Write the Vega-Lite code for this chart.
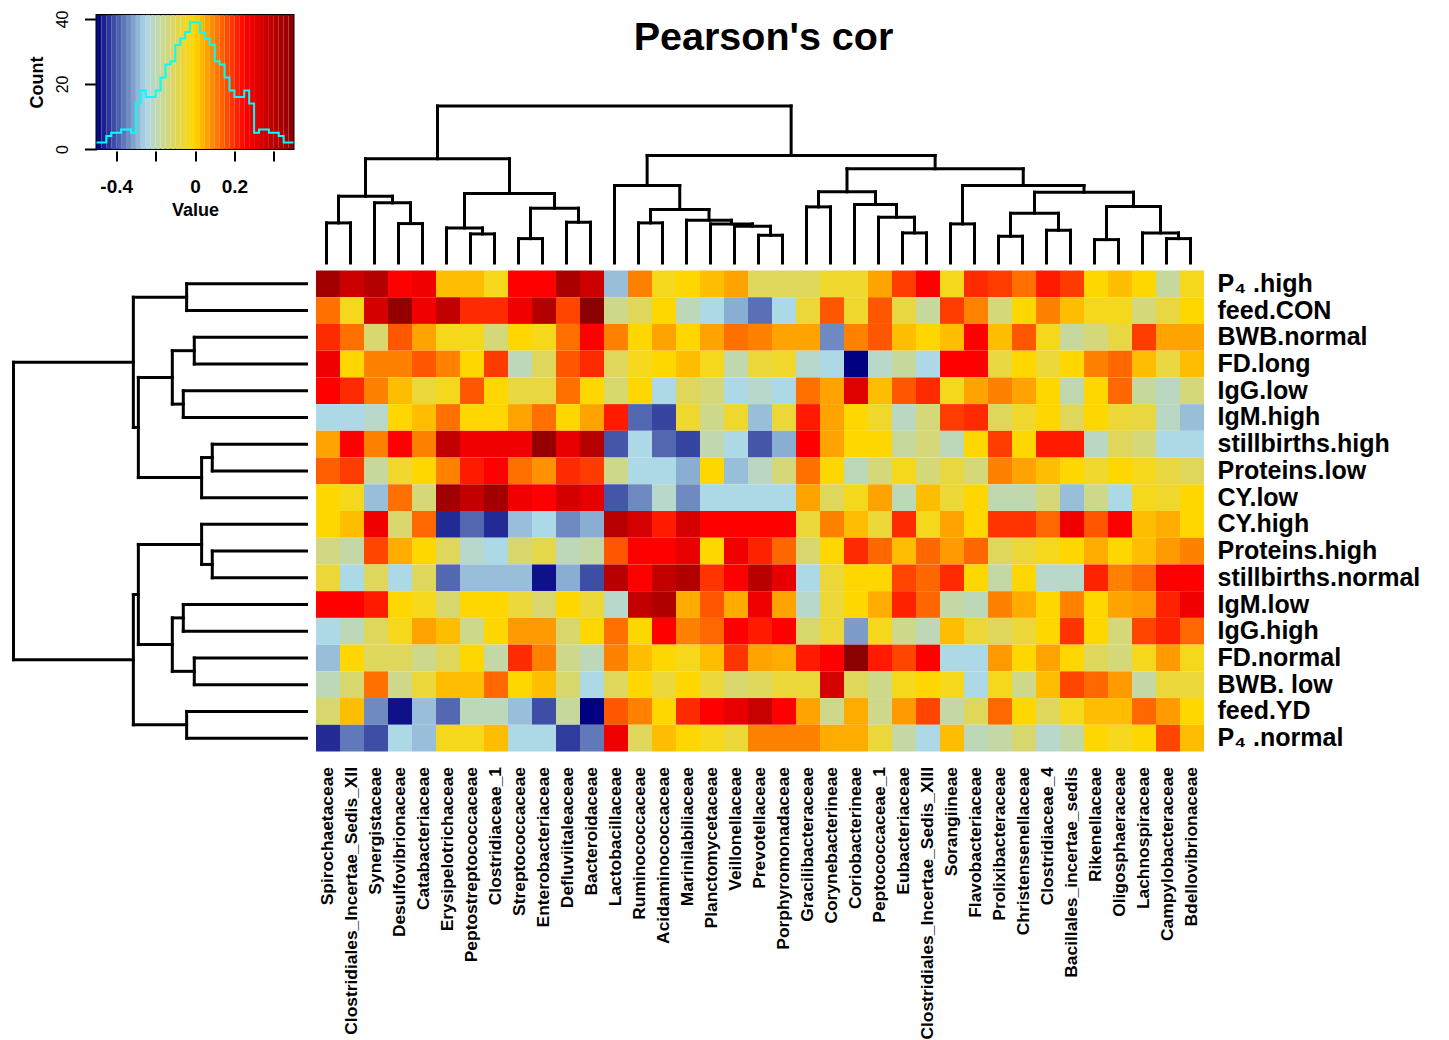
{
"$schema": "https://vega.github.io/schema/vega-lite/v6.json",
"background": "white",
"padding": {"left": 10.5, "top": 9, "right": 5, "bottom": 0},
"config": {
  "font": "Liberation Sans",
  "view": {"stroke": null},
  "axis": {"labelColor": "black", "titleColor": "black", "tickColor": "black", "grid": false}
},
"datasets": {
"taxa": [
{"col":0,"taxon":"Spirochaetaceae"},{"col":1,"taxon":"Clostridiales_Incertae_Sedis_XII"},{"col":2,"taxon":"Synergistaceae"},{"col":3,"taxon":"Desulfovibrionaceae"},{"col":4,"taxon":"Catabacteriaceae"},{"col":5,"taxon":"Erysipelotrichaceae"},{"col":6,"taxon":"Peptostreptococcaceae"},{"col":7,"taxon":"Clostridiaceae_1"},{"col":8,"taxon":"Streptococcaceae"},{"col":9,"taxon":"Enterobacteriaceae"},{"col":10,"taxon":"Defluviitaleaceae"},{"col":11,"taxon":"Bacteroidaceae"},{"col":12,"taxon":"Lactobacillaceae"},{"col":13,"taxon":"Ruminococcaceae"},{"col":14,"taxon":"Acidaminococcaceae"},{"col":15,"taxon":"Marinilabiliaceae"},{"col":16,"taxon":"Planctomycetaceae"},{"col":17,"taxon":"Veillonellaceae"},{"col":18,"taxon":"Prevotellaceae"},{"col":19,"taxon":"Porphyromonadaceae"},{"col":20,"taxon":"Gracilibacteraceae"},{"col":21,"taxon":"Corynebacterineae"},{"col":22,"taxon":"Coriobacterineae"},{"col":23,"taxon":"Peptococcaceae_1"},{"col":24,"taxon":"Eubacteriaceae"},{"col":25,"taxon":"Clostridiales_Incertae_Sedis_XIII"},{"col":26,"taxon":"Sorangiineae"},{"col":27,"taxon":"Flavobacteriaceae"},{"col":28,"taxon":"Prolixibacteraceae"},{"col":29,"taxon":"Christensenellaceae"},{"col":30,"taxon":"Clostridiaceae_4"},{"col":31,"taxon":"Bacillales_incertae_sedis"},{"col":32,"taxon":"Rikenellaceae"},{"col":33,"taxon":"Oligosphaeraceae"},{"col":34,"taxon":"Lachnospiraceae"},{"col":35,"taxon":"Campylobacteraceae"},{"col":36,"taxon":"Bdellovibrionaceae"}
],
"traits": [
{"row":0,"trait":"P₄ .high"},{"row":1,"trait":"feed.CON"},{"row":2,"trait":"BWB.normal"},{"row":3,"trait":"FD.long"},{"row":4,"trait":"IgG.low"},{"row":5,"trait":"IgM.high"},{"row":6,"trait":"stillbirths.high"},{"row":7,"trait":"Proteins.low"},{"row":8,"trait":"CY.low"},{"row":9,"trait":"CY.high"},{"row":10,"trait":"Proteins.high"},{"row":11,"trait":"stillbirths.normal"},{"row":12,"trait":"IgM.low"},{"row":13,"trait":"IgG.high"},{"row":14,"trait":"FD.normal"},{"row":15,"trait":"BWB. low"},{"row":16,"trait":"feed.YD"},{"row":17,"trait":"P₄ .normal"}
],
"cells": [
{"row":0,"col":0,"cor":0.45},{"row":0,"col":1,"cor":0.36},{"row":0,"col":2,"cor":0.41},{"row":0,"col":3,"cor":0.25},{"row":0,"col":4,"cor":0.28},{"row":0,"col":5,"cor":0.03},{"row":0,"col":6,"cor":0.03},{"row":0,"col":7,"cor":-0.03},{"row":0,"col":8,"cor":0.25},{"row":0,"col":9,"cor":0.25},{"row":0,"col":10,"cor":0.43},{"row":0,"col":11,"cor":0.36},{"row":0,"col":12,"cor":-0.28},{"row":0,"col":13,"cor":0.1},{"row":0,"col":14,"cor":-0.03},{"row":0,"col":15,"cor":0},{"row":0,"col":16,"cor":0.03},{"row":0,"col":17,"cor":0.06},{"row":0,"col":18,"cor":-0.1},{"row":0,"col":19,"cor":-0.1},{"row":0,"col":20,"cor":-0.1},{"row":0,"col":21,"cor":-0.05},{"row":0,"col":22,"cor":-0.05},{"row":0,"col":23,"cor":0.06},{"row":0,"col":24,"cor":0.18},{"row":0,"col":25,"cor":0.25},{"row":0,"col":26,"cor":-0.03},{"row":0,"col":27,"cor":0.2},{"row":0,"col":28,"cor":0.18},{"row":0,"col":29,"cor":0.12},{"row":0,"col":30,"cor":0.22},{"row":0,"col":31,"cor":0.18},{"row":0,"col":32,"cor":0},{"row":0,"col":33,"cor":0.03},{"row":0,"col":34,"cor":0},{"row":0,"col":35,"cor":-0.17},{"row":0,"col":36,"cor":-0.03},
{"row":1,"col":0,"cor":0.12},{"row":1,"col":1,"cor":-0.03},{"row":1,"col":2,"cor":0.34},{"row":1,"col":3,"cor":0.48},{"row":1,"col":4,"cor":0.28},{"row":1,"col":5,"cor":0.38},{"row":1,"col":6,"cor":0.2},{"row":1,"col":7,"cor":0.2},{"row":1,"col":8,"cor":0.28},{"row":1,"col":9,"cor":0.41},{"row":1,"col":10,"cor":0.17},{"row":1,"col":11,"cor":0.5},{"row":1,"col":12,"cor":-0.15},{"row":1,"col":13,"cor":-0.1},{"row":1,"col":14,"cor":0},{"row":1,"col":15,"cor":-0.2},{"row":1,"col":16,"cor":-0.25},{"row":1,"col":17,"cor":-0.3},{"row":1,"col":18,"cor":-0.37},{"row":1,"col":19,"cor":-0.25},{"row":1,"col":20,"cor":-0.06},{"row":1,"col":21,"cor":0.15},{"row":1,"col":22,"cor":-0.05},{"row":1,"col":23,"cor":0.15},{"row":1,"col":24,"cor":-0.07},{"row":1,"col":25,"cor":-0.17},{"row":1,"col":26,"cor":0.18},{"row":1,"col":27,"cor":0.1},{"row":1,"col":28,"cor":-0.13},{"row":1,"col":29,"cor":0},{"row":1,"col":30,"cor":0.1},{"row":1,"col":31,"cor":0.03},{"row":1,"col":32,"cor":-0.03},{"row":1,"col":33,"cor":-0.03},{"row":1,"col":34,"cor":-0.13},{"row":1,"col":35,"cor":-0.07},{"row":1,"col":36,"cor":0},
{"row":2,"col":0,"cor":0.2},{"row":2,"col":1,"cor":0.12},{"row":2,"col":2,"cor":-0.12},{"row":2,"col":3,"cor":0.15},{"row":2,"col":4,"cor":0.06},{"row":2,"col":5,"cor":-0.03},{"row":2,"col":6,"cor":-0.03},{"row":2,"col":7,"cor":-0.13},{"row":2,"col":8,"cor":0},{"row":2,"col":9,"cor":-0.03},{"row":2,"col":10,"cor":0.12},{"row":2,"col":11,"cor":0.25},{"row":2,"col":12,"cor":0.1},{"row":2,"col":13,"cor":0},{"row":2,"col":14,"cor":0.06},{"row":2,"col":15,"cor":0},{"row":2,"col":16,"cor":0.06},{"row":2,"col":17,"cor":0.12},{"row":2,"col":18,"cor":0.1},{"row":2,"col":19,"cor":0.06},{"row":2,"col":20,"cor":0.06},{"row":2,"col":21,"cor":-0.34},{"row":2,"col":22,"cor":0.1},{"row":2,"col":23,"cor":0.15},{"row":2,"col":24,"cor":0.03},{"row":2,"col":25,"cor":0},{"row":2,"col":26,"cor":0.03},{"row":2,"col":27,"cor":0.25},{"row":2,"col":28,"cor":0.03},{"row":2,"col":29,"cor":0.15},{"row":2,"col":30,"cor":-0.03},{"row":2,"col":31,"cor":-0.17},{"row":2,"col":32,"cor":-0.13},{"row":2,"col":33,"cor":-0.07},{"row":2,"col":34,"cor":0.18},{"row":2,"col":35,"cor":0.06},{"row":2,"col":36,"cor":0.06},
{"row":3,"col":0,"cor":0.28},{"row":3,"col":1,"cor":0},{"row":3,"col":2,"cor":0.1},{"row":3,"col":3,"cor":0.1},{"row":3,"col":4,"cor":0.15},{"row":3,"col":5,"cor":0.1},{"row":3,"col":6,"cor":0},{"row":3,"col":7,"cor":0.18},{"row":3,"col":8,"cor":-0.2},{"row":3,"col":9,"cor":-0.1},{"row":3,"col":10,"cor":0.15},{"row":3,"col":11,"cor":0.2},{"row":3,"col":12,"cor":-0.1},{"row":3,"col":13,"cor":-0.03},{"row":3,"col":14,"cor":0},{"row":3,"col":15,"cor":0.03},{"row":3,"col":16,"cor":-0.03},{"row":3,"col":17,"cor":-0.19},{"row":3,"col":18,"cor":-0.06},{"row":3,"col":19,"cor":-0.05},{"row":3,"col":20,"cor":-0.22},{"row":3,"col":21,"cor":-0.25},{"row":3,"col":22,"cor":-0.5},{"row":3,"col":23,"cor":-0.22},{"row":3,"col":24,"cor":-0.17},{"row":3,"col":25,"cor":-0.25},{"row":3,"col":26,"cor":0.25},{"row":3,"col":27,"cor":0.25},{"row":3,"col":28,"cor":-0.07},{"row":3,"col":29,"cor":0},{"row":3,"col":30,"cor":-0.06},{"row":3,"col":31,"cor":0},{"row":3,"col":32,"cor":0.1},{"row":3,"col":33,"cor":0.13},{"row":3,"col":34,"cor":0.03},{"row":3,"col":35,"cor":-0.07},{"row":3,"col":36,"cor":0.03},
{"row":4,"col":0,"cor":0.25},{"row":4,"col":1,"cor":0.2},{"row":4,"col":2,"cor":0.1},{"row":4,"col":3,"cor":0.03},{"row":4,"col":4,"cor":-0.06},{"row":4,"col":5,"cor":-0.03},{"row":4,"col":6,"cor":0.15},{"row":4,"col":7,"cor":0},{"row":4,"col":8,"cor":-0.07},{"row":4,"col":9,"cor":-0.07},{"row":4,"col":10,"cor":0.12},{"row":4,"col":11,"cor":0},{"row":4,"col":12,"cor":-0.12},{"row":4,"col":13,"cor":0},{"row":4,"col":14,"cor":-0.25},{"row":4,"col":15,"cor":-0.1},{"row":4,"col":16,"cor":-0.13},{"row":4,"col":17,"cor":-0.25},{"row":4,"col":18,"cor":-0.22},{"row":4,"col":19,"cor":-0.25},{"row":4,"col":20,"cor":0.12},{"row":4,"col":21,"cor":0.06},{"row":4,"col":22,"cor":0.32},{"row":4,"col":23,"cor":0.03},{"row":4,"col":24,"cor":0.15},{"row":4,"col":25,"cor":0.2},{"row":4,"col":26,"cor":-0.03},{"row":4,"col":27,"cor":0.06},{"row":4,"col":28,"cor":0.1},{"row":4,"col":29,"cor":0.06},{"row":4,"col":30,"cor":0},{"row":4,"col":31,"cor":-0.19},{"row":4,"col":32,"cor":0},{"row":4,"col":33,"cor":0.13},{"row":4,"col":34,"cor":-0.17},{"row":4,"col":35,"cor":-0.21},{"row":4,"col":36,"cor":-0.13},
{"row":5,"col":0,"cor":-0.25},{"row":5,"col":1,"cor":-0.25},{"row":5,"col":2,"cor":-0.22},{"row":5,"col":3,"cor":0},{"row":5,"col":4,"cor":0.03},{"row":5,"col":5,"cor":0.12},{"row":5,"col":6,"cor":0},{"row":5,"col":7,"cor":0},{"row":5,"col":8,"cor":0.06},{"row":5,"col":9,"cor":0.12},{"row":5,"col":10,"cor":0},{"row":5,"col":11,"cor":0.06},{"row":5,"col":12,"cor":0.22},{"row":5,"col":13,"cor":-0.38},{"row":5,"col":14,"cor":-0.42},{"row":5,"col":15,"cor":-0.05},{"row":5,"col":16,"cor":-0.15},{"row":5,"col":17,"cor":-0.05},{"row":5,"col":18,"cor":-0.28},{"row":5,"col":19,"cor":-0.06},{"row":5,"col":20,"cor":0.22},{"row":5,"col":21,"cor":0.06},{"row":5,"col":22,"cor":0},{"row":5,"col":23,"cor":-0.05},{"row":5,"col":24,"cor":-0.21},{"row":5,"col":25,"cor":-0.13},{"row":5,"col":26,"cor":0.18},{"row":5,"col":27,"cor":0.2},{"row":5,"col":28,"cor":-0.1},{"row":5,"col":29,"cor":-0.05},{"row":5,"col":30,"cor":0},{"row":5,"col":31,"cor":-0.1},{"row":5,"col":32,"cor":0},{"row":5,"col":33,"cor":-0.06},{"row":5,"col":34,"cor":-0.07},{"row":5,"col":35,"cor":-0.21},{"row":5,"col":36,"cor":-0.28},
{"row":6,"col":0,"cor":0.06},{"row":6,"col":1,"cor":0.25},{"row":6,"col":2,"cor":0.1},{"row":6,"col":3,"cor":0.25},{"row":6,"col":4,"cor":0.1},{"row":6,"col":5,"cor":0.38},{"row":6,"col":6,"cor":0.28},{"row":6,"col":7,"cor":0.28},{"row":6,"col":8,"cor":0.28},{"row":6,"col":9,"cor":0.48},{"row":6,"col":10,"cor":0.3},{"row":6,"col":11,"cor":0.41},{"row":6,"col":12,"cor":-0.4},{"row":6,"col":13,"cor":-0.25},{"row":6,"col":14,"cor":-0.38},{"row":6,"col":15,"cor":-0.42},{"row":6,"col":16,"cor":-0.19},{"row":6,"col":17,"cor":-0.25},{"row":6,"col":18,"cor":-0.4},{"row":6,"col":19,"cor":-0.3},{"row":6,"col":20,"cor":0.25},{"row":6,"col":21,"cor":0.06},{"row":6,"col":22,"cor":0},{"row":6,"col":23,"cor":0},{"row":6,"col":24,"cor":-0.17},{"row":6,"col":25,"cor":-0.13},{"row":6,"col":26,"cor":-0.2},{"row":6,"col":27,"cor":0},{"row":6,"col":28,"cor":0.18},{"row":6,"col":29,"cor":0},{"row":6,"col":30,"cor":0.22},{"row":6,"col":31,"cor":0.22},{"row":6,"col":32,"cor":-0.21},{"row":6,"col":33,"cor":-0.1},{"row":6,"col":34,"cor":-0.13},{"row":6,"col":35,"cor":-0.25},{"row":6,"col":36,"cor":-0.25},
{"row":7,"col":0,"cor":0.14},{"row":7,"col":1,"cor":0.18},{"row":7,"col":2,"cor":-0.17},{"row":7,"col":3,"cor":-0.05},{"row":7,"col":4,"cor":0},{"row":7,"col":5,"cor":0.1},{"row":7,"col":6,"cor":0.22},{"row":7,"col":7,"cor":0.25},{"row":7,"col":8,"cor":0.12},{"row":7,"col":9,"cor":0.08},{"row":7,"col":10,"cor":0.2},{"row":7,"col":11,"cor":0.18},{"row":7,"col":12,"cor":-0.15},{"row":7,"col":13,"cor":-0.25},{"row":7,"col":14,"cor":-0.25},{"row":7,"col":15,"cor":-0.3},{"row":7,"col":16,"cor":0},{"row":7,"col":17,"cor":-0.28},{"row":7,"col":18,"cor":-0.21},{"row":7,"col":19,"cor":-0.13},{"row":7,"col":20,"cor":0.12},{"row":7,"col":21,"cor":0},{"row":7,"col":22,"cor":-0.2},{"row":7,"col":23,"cor":-0.13},{"row":7,"col":24,"cor":-0.03},{"row":7,"col":25,"cor":-0.13},{"row":7,"col":26,"cor":-0.07},{"row":7,"col":27,"cor":-0.13},{"row":7,"col":28,"cor":0.1},{"row":7,"col":29,"cor":0.06},{"row":7,"col":30,"cor":0.03},{"row":7,"col":31,"cor":0},{"row":7,"col":32,"cor":-0.05},{"row":7,"col":33,"cor":0},{"row":7,"col":34,"cor":-0.03},{"row":7,"col":35,"cor":-0.07},{"row":7,"col":36,"cor":-0.1},
{"row":8,"col":0,"cor":0},{"row":8,"col":1,"cor":-0.03},{"row":8,"col":2,"cor":-0.28},{"row":8,"col":3,"cor":0.12},{"row":8,"col":4,"cor":-0.13},{"row":8,"col":5,"cor":0.45},{"row":8,"col":6,"cor":0.38},{"row":8,"col":7,"cor":0.45},{"row":8,"col":8,"cor":0.28},{"row":8,"col":9,"cor":0.25},{"row":8,"col":10,"cor":0.34},{"row":8,"col":11,"cor":0.3},{"row":8,"col":12,"cor":-0.4},{"row":8,"col":13,"cor":-0.34},{"row":8,"col":14,"cor":-0.22},{"row":8,"col":15,"cor":-0.34},{"row":8,"col":16,"cor":-0.25},{"row":8,"col":17,"cor":-0.25},{"row":8,"col":18,"cor":-0.25},{"row":8,"col":19,"cor":-0.25},{"row":8,"col":20,"cor":0.06},{"row":8,"col":21,"cor":-0.1},{"row":8,"col":22,"cor":-0.03},{"row":8,"col":23,"cor":0.06},{"row":8,"col":24,"cor":-0.2},{"row":8,"col":25,"cor":0.03},{"row":8,"col":26,"cor":-0.06},{"row":8,"col":27,"cor":0},{"row":8,"col":28,"cor":-0.19},{"row":8,"col":29,"cor":-0.19},{"row":8,"col":30,"cor":-0.13},{"row":8,"col":31,"cor":-0.28},{"row":8,"col":32,"cor":-0.15},{"row":8,"col":33,"cor":-0.25},{"row":8,"col":34,"cor":-0.03},{"row":8,"col":35,"cor":-0.05},{"row":8,"col":36,"cor":0},
{"row":9,"col":0,"cor":0},{"row":9,"col":1,"cor":0.03},{"row":9,"col":2,"cor":0.28},{"row":9,"col":3,"cor":-0.12},{"row":9,"col":4,"cor":0.13},{"row":9,"col":5,"cor":-0.45},{"row":9,"col":6,"cor":-0.38},{"row":9,"col":7,"cor":-0.45},{"row":9,"col":8,"cor":-0.28},{"row":9,"col":9,"cor":-0.25},{"row":9,"col":10,"cor":-0.34},{"row":9,"col":11,"cor":-0.3},{"row":9,"col":12,"cor":0.4},{"row":9,"col":13,"cor":0.34},{"row":9,"col":14,"cor":0.22},{"row":9,"col":15,"cor":0.34},{"row":9,"col":16,"cor":0.25},{"row":9,"col":17,"cor":0.25},{"row":9,"col":18,"cor":0.25},{"row":9,"col":19,"cor":0.25},{"row":9,"col":20,"cor":-0.06},{"row":9,"col":21,"cor":0.1},{"row":9,"col":22,"cor":0.03},{"row":9,"col":23,"cor":-0.06},{"row":9,"col":24,"cor":0.2},{"row":9,"col":25,"cor":-0.03},{"row":9,"col":26,"cor":0.06},{"row":9,"col":27,"cor":0},{"row":9,"col":28,"cor":0.19},{"row":9,"col":29,"cor":0.19},{"row":9,"col":30,"cor":0.13},{"row":9,"col":31,"cor":0.28},{"row":9,"col":32,"cor":0.15},{"row":9,"col":33,"cor":0.25},{"row":9,"col":34,"cor":0.03},{"row":9,"col":35,"cor":0.05},{"row":9,"col":36,"cor":0},
{"row":10,"col":0,"cor":-0.14},{"row":10,"col":1,"cor":-0.18},{"row":10,"col":2,"cor":0.17},{"row":10,"col":3,"cor":0.05},{"row":10,"col":4,"cor":0},{"row":10,"col":5,"cor":-0.1},{"row":10,"col":6,"cor":-0.22},{"row":10,"col":7,"cor":-0.25},{"row":10,"col":8,"cor":-0.12},{"row":10,"col":9,"cor":-0.08},{"row":10,"col":10,"cor":-0.2},{"row":10,"col":11,"cor":-0.18},{"row":10,"col":12,"cor":0.15},{"row":10,"col":13,"cor":0.25},{"row":10,"col":14,"cor":0.25},{"row":10,"col":15,"cor":0.3},{"row":10,"col":16,"cor":0},{"row":10,"col":17,"cor":0.28},{"row":10,"col":18,"cor":0.21},{"row":10,"col":19,"cor":0.13},{"row":10,"col":20,"cor":-0.12},{"row":10,"col":21,"cor":0},{"row":10,"col":22,"cor":0.2},{"row":10,"col":23,"cor":0.13},{"row":10,"col":24,"cor":0.03},{"row":10,"col":25,"cor":0.13},{"row":10,"col":26,"cor":0.07},{"row":10,"col":27,"cor":0.13},{"row":10,"col":28,"cor":-0.1},{"row":10,"col":29,"cor":-0.06},{"row":10,"col":30,"cor":-0.03},{"row":10,"col":31,"cor":0},{"row":10,"col":32,"cor":0.05},{"row":10,"col":33,"cor":0},{"row":10,"col":34,"cor":0.03},{"row":10,"col":35,"cor":0.07},{"row":10,"col":36,"cor":0.1},
{"row":11,"col":0,"cor":-0.06},{"row":11,"col":1,"cor":-0.25},{"row":11,"col":2,"cor":-0.1},{"row":11,"col":3,"cor":-0.25},{"row":11,"col":4,"cor":-0.1},{"row":11,"col":5,"cor":-0.38},{"row":11,"col":6,"cor":-0.28},{"row":11,"col":7,"cor":-0.28},{"row":11,"col":8,"cor":-0.28},{"row":11,"col":9,"cor":-0.48},{"row":11,"col":10,"cor":-0.3},{"row":11,"col":11,"cor":-0.41},{"row":11,"col":12,"cor":0.4},{"row":11,"col":13,"cor":0.25},{"row":11,"col":14,"cor":0.38},{"row":11,"col":15,"cor":0.42},{"row":11,"col":16,"cor":0.19},{"row":11,"col":17,"cor":0.25},{"row":11,"col":18,"cor":0.4},{"row":11,"col":19,"cor":0.3},{"row":11,"col":20,"cor":-0.25},{"row":11,"col":21,"cor":-0.06},{"row":11,"col":22,"cor":0},{"row":11,"col":23,"cor":0},{"row":11,"col":24,"cor":0.17},{"row":11,"col":25,"cor":0.13},{"row":11,"col":26,"cor":0.2},{"row":11,"col":27,"cor":0},{"row":11,"col":28,"cor":-0.18},{"row":11,"col":29,"cor":0},{"row":11,"col":30,"cor":-0.22},{"row":11,"col":31,"cor":-0.22},{"row":11,"col":32,"cor":0.21},{"row":11,"col":33,"cor":0.1},{"row":11,"col":34,"cor":0.13},{"row":11,"col":35,"cor":0.25},{"row":11,"col":36,"cor":0.25},
{"row":12,"col":0,"cor":0.25},{"row":12,"col":1,"cor":0.25},{"row":12,"col":2,"cor":0.22},{"row":12,"col":3,"cor":0},{"row":12,"col":4,"cor":-0.03},{"row":12,"col":5,"cor":-0.12},{"row":12,"col":6,"cor":0},{"row":12,"col":7,"cor":0},{"row":12,"col":8,"cor":-0.06},{"row":12,"col":9,"cor":-0.12},{"row":12,"col":10,"cor":0},{"row":12,"col":11,"cor":-0.06},{"row":12,"col":12,"cor":-0.22},{"row":12,"col":13,"cor":0.38},{"row":12,"col":14,"cor":0.42},{"row":12,"col":15,"cor":0.05},{"row":12,"col":16,"cor":0.15},{"row":12,"col":17,"cor":0.05},{"row":12,"col":18,"cor":0.28},{"row":12,"col":19,"cor":0.06},{"row":12,"col":20,"cor":-0.22},{"row":12,"col":21,"cor":-0.06},{"row":12,"col":22,"cor":0},{"row":12,"col":23,"cor":0.05},{"row":12,"col":24,"cor":0.21},{"row":12,"col":25,"cor":0.13},{"row":12,"col":26,"cor":-0.18},{"row":12,"col":27,"cor":-0.2},{"row":12,"col":28,"cor":0.1},{"row":12,"col":29,"cor":0.05},{"row":12,"col":30,"cor":0},{"row":12,"col":31,"cor":0.1},{"row":12,"col":32,"cor":0},{"row":12,"col":33,"cor":0.06},{"row":12,"col":34,"cor":0.07},{"row":12,"col":35,"cor":0.21},{"row":12,"col":36,"cor":0.28},
{"row":13,"col":0,"cor":-0.25},{"row":13,"col":1,"cor":-0.2},{"row":13,"col":2,"cor":-0.1},{"row":13,"col":3,"cor":-0.03},{"row":13,"col":4,"cor":0.06},{"row":13,"col":5,"cor":0.03},{"row":13,"col":6,"cor":-0.15},{"row":13,"col":7,"cor":0},{"row":13,"col":8,"cor":0.07},{"row":13,"col":9,"cor":0.07},{"row":13,"col":10,"cor":-0.12},{"row":13,"col":11,"cor":0},{"row":13,"col":12,"cor":0.12},{"row":13,"col":13,"cor":0},{"row":13,"col":14,"cor":0.25},{"row":13,"col":15,"cor":0.1},{"row":13,"col":16,"cor":0.13},{"row":13,"col":17,"cor":0.25},{"row":13,"col":18,"cor":0.22},{"row":13,"col":19,"cor":0.25},{"row":13,"col":20,"cor":-0.12},{"row":13,"col":21,"cor":-0.06},{"row":13,"col":22,"cor":-0.32},{"row":13,"col":23,"cor":-0.03},{"row":13,"col":24,"cor":-0.15},{"row":13,"col":25,"cor":-0.2},{"row":13,"col":26,"cor":0.03},{"row":13,"col":27,"cor":-0.06},{"row":13,"col":28,"cor":-0.1},{"row":13,"col":29,"cor":-0.06},{"row":13,"col":30,"cor":0},{"row":13,"col":31,"cor":0.19},{"row":13,"col":32,"cor":0},{"row":13,"col":33,"cor":-0.13},{"row":13,"col":34,"cor":0.17},{"row":13,"col":35,"cor":0.21},{"row":13,"col":36,"cor":0.13},
{"row":14,"col":0,"cor":-0.28},{"row":14,"col":1,"cor":0},{"row":14,"col":2,"cor":-0.1},{"row":14,"col":3,"cor":-0.1},{"row":14,"col":4,"cor":-0.15},{"row":14,"col":5,"cor":-0.1},{"row":14,"col":6,"cor":0},{"row":14,"col":7,"cor":-0.18},{"row":14,"col":8,"cor":0.2},{"row":14,"col":9,"cor":0.1},{"row":14,"col":10,"cor":-0.15},{"row":14,"col":11,"cor":-0.2},{"row":14,"col":12,"cor":0.1},{"row":14,"col":13,"cor":0.03},{"row":14,"col":14,"cor":0},{"row":14,"col":15,"cor":-0.03},{"row":14,"col":16,"cor":0.03},{"row":14,"col":17,"cor":0.19},{"row":14,"col":18,"cor":0.06},{"row":14,"col":19,"cor":0.05},{"row":14,"col":20,"cor":0.22},{"row":14,"col":21,"cor":0.25},{"row":14,"col":22,"cor":0.5},{"row":14,"col":23,"cor":0.22},{"row":14,"col":24,"cor":0.17},{"row":14,"col":25,"cor":0.25},{"row":14,"col":26,"cor":-0.25},{"row":14,"col":27,"cor":-0.25},{"row":14,"col":28,"cor":0.07},{"row":14,"col":29,"cor":0},{"row":14,"col":30,"cor":0.06},{"row":14,"col":31,"cor":0},{"row":14,"col":32,"cor":-0.1},{"row":14,"col":33,"cor":-0.13},{"row":14,"col":34,"cor":-0.03},{"row":14,"col":35,"cor":0.07},{"row":14,"col":36,"cor":-0.03},
{"row":15,"col":0,"cor":-0.2},{"row":15,"col":1,"cor":-0.12},{"row":15,"col":2,"cor":0.12},{"row":15,"col":3,"cor":-0.15},{"row":15,"col":4,"cor":-0.06},{"row":15,"col":5,"cor":0.03},{"row":15,"col":6,"cor":0.03},{"row":15,"col":7,"cor":0.13},{"row":15,"col":8,"cor":0},{"row":15,"col":9,"cor":0.03},{"row":15,"col":10,"cor":-0.12},{"row":15,"col":11,"cor":-0.25},{"row":15,"col":12,"cor":-0.1},{"row":15,"col":13,"cor":0},{"row":15,"col":14,"cor":-0.06},{"row":15,"col":15,"cor":0},{"row":15,"col":16,"cor":-0.06},{"row":15,"col":17,"cor":-0.12},{"row":15,"col":18,"cor":-0.1},{"row":15,"col":19,"cor":-0.06},{"row":15,"col":20,"cor":-0.06},{"row":15,"col":21,"cor":0.34},{"row":15,"col":22,"cor":-0.1},{"row":15,"col":23,"cor":-0.15},{"row":15,"col":24,"cor":-0.03},{"row":15,"col":25,"cor":0},{"row":15,"col":26,"cor":-0.03},{"row":15,"col":27,"cor":-0.25},{"row":15,"col":28,"cor":-0.03},{"row":15,"col":29,"cor":-0.15},{"row":15,"col":30,"cor":0.03},{"row":15,"col":31,"cor":0.17},{"row":15,"col":32,"cor":0.13},{"row":15,"col":33,"cor":0.07},{"row":15,"col":34,"cor":-0.18},{"row":15,"col":35,"cor":-0.06},{"row":15,"col":36,"cor":-0.06},
{"row":16,"col":0,"cor":-0.12},{"row":16,"col":1,"cor":0.03},{"row":16,"col":2,"cor":-0.34},{"row":16,"col":3,"cor":-0.48},{"row":16,"col":4,"cor":-0.28},{"row":16,"col":5,"cor":-0.38},{"row":16,"col":6,"cor":-0.2},{"row":16,"col":7,"cor":-0.2},{"row":16,"col":8,"cor":-0.28},{"row":16,"col":9,"cor":-0.41},{"row":16,"col":10,"cor":-0.17},{"row":16,"col":11,"cor":-0.5},{"row":16,"col":12,"cor":0.15},{"row":16,"col":13,"cor":0.1},{"row":16,"col":14,"cor":0},{"row":16,"col":15,"cor":0.2},{"row":16,"col":16,"cor":0.25},{"row":16,"col":17,"cor":0.3},{"row":16,"col":18,"cor":0.37},{"row":16,"col":19,"cor":0.25},{"row":16,"col":20,"cor":0.06},{"row":16,"col":21,"cor":-0.15},{"row":16,"col":22,"cor":0.05},{"row":16,"col":23,"cor":-0.15},{"row":16,"col":24,"cor":0.07},{"row":16,"col":25,"cor":0.17},{"row":16,"col":26,"cor":-0.18},{"row":16,"col":27,"cor":-0.1},{"row":16,"col":28,"cor":0.13},{"row":16,"col":29,"cor":0},{"row":16,"col":30,"cor":-0.1},{"row":16,"col":31,"cor":-0.03},{"row":16,"col":32,"cor":0.03},{"row":16,"col":33,"cor":0.03},{"row":16,"col":34,"cor":0.13},{"row":16,"col":35,"cor":0.07},{"row":16,"col":36,"cor":0},
{"row":17,"col":0,"cor":-0.45},{"row":17,"col":1,"cor":-0.36},{"row":17,"col":2,"cor":-0.41},{"row":17,"col":3,"cor":-0.25},{"row":17,"col":4,"cor":-0.28},{"row":17,"col":5,"cor":-0.03},{"row":17,"col":6,"cor":-0.03},{"row":17,"col":7,"cor":0.03},{"row":17,"col":8,"cor":-0.25},{"row":17,"col":9,"cor":-0.25},{"row":17,"col":10,"cor":-0.43},{"row":17,"col":11,"cor":-0.36},{"row":17,"col":12,"cor":0.28},{"row":17,"col":13,"cor":-0.1},{"row":17,"col":14,"cor":0.03},{"row":17,"col":15,"cor":0},{"row":17,"col":16,"cor":-0.03},{"row":17,"col":17,"cor":-0.06},{"row":17,"col":18,"cor":0.1},{"row":17,"col":19,"cor":0.1},{"row":17,"col":20,"cor":0.1},{"row":17,"col":21,"cor":0.05},{"row":17,"col":22,"cor":0.05},{"row":17,"col":23,"cor":-0.06},{"row":17,"col":24,"cor":-0.18},{"row":17,"col":25,"cor":-0.25},{"row":17,"col":26,"cor":0.03},{"row":17,"col":27,"cor":-0.2},{"row":17,"col":28,"cor":-0.18},{"row":17,"col":29,"cor":-0.12},{"row":17,"col":30,"cor":-0.22},{"row":17,"col":31,"cor":-0.18},{"row":17,"col":32,"cor":0},{"row":17,"col":33,"cor":-0.03},{"row":17,"col":34,"cor":0},{"row":17,"col":35,"cor":0.17},{"row":17,"col":36,"cor":0.03}
],
"keybins": [
{"lo":-0.5,"hi":-0.475,"mid":-0.4875},{"lo":-0.475,"hi":-0.45,"mid":-0.4625},{"lo":-0.45,"hi":-0.425,"mid":-0.4375},{"lo":-0.425,"hi":-0.4,"mid":-0.4125},{"lo":-0.4,"hi":-0.375,"mid":-0.3875},{"lo":-0.375,"hi":-0.35,"mid":-0.3625},{"lo":-0.35,"hi":-0.325,"mid":-0.3375},{"lo":-0.325,"hi":-0.3,"mid":-0.3125},{"lo":-0.3,"hi":-0.275,"mid":-0.2875},{"lo":-0.275,"hi":-0.25,"mid":-0.2625},{"lo":-0.25,"hi":-0.225,"mid":-0.2375},{"lo":-0.225,"hi":-0.2,"mid":-0.2125},{"lo":-0.2,"hi":-0.175,"mid":-0.1875},{"lo":-0.175,"hi":-0.15,"mid":-0.1625},{"lo":-0.15,"hi":-0.125,"mid":-0.1375},{"lo":-0.125,"hi":-0.1,"mid":-0.1125},{"lo":-0.1,"hi":-0.075,"mid":-0.0875},{"lo":-0.075,"hi":-0.05,"mid":-0.0625},{"lo":-0.05,"hi":-0.025,"mid":-0.0375},{"lo":-0.025,"hi":0,"mid":-0.0125},
{"lo":0,"hi":0.025,"mid":0.0125},{"lo":0.025,"hi":0.05,"mid":0.0375},{"lo":0.05,"hi":0.075,"mid":0.0625},{"lo":0.075,"hi":0.1,"mid":0.0875},{"lo":0.1,"hi":0.125,"mid":0.1125},{"lo":0.125,"hi":0.15,"mid":0.1375},{"lo":0.15,"hi":0.175,"mid":0.1625},{"lo":0.175,"hi":0.2,"mid":0.1875},{"lo":0.2,"hi":0.225,"mid":0.2125},{"lo":0.225,"hi":0.25,"mid":0.2375},{"lo":0.25,"hi":0.275,"mid":0.2625},{"lo":0.275,"hi":0.3,"mid":0.2875},{"lo":0.3,"hi":0.325,"mid":0.3125},{"lo":0.325,"hi":0.35,"mid":0.3375},{"lo":0.35,"hi":0.375,"mid":0.3625},{"lo":0.375,"hi":0.4,"mid":0.3875},{"lo":0.4,"hi":0.425,"mid":0.4125},{"lo":0.425,"hi":0.45,"mid":0.4375},{"lo":0.45,"hi":0.475,"mid":0.4625},{"lo":0.475,"hi":0.5,"mid":0.4875}
],
"hist": [
{"edge":-0.5,"count":2},{"edge":-0.475,"count":2},{"edge":-0.45,"count":4},{"edge":-0.425,"count":5},{"edge":-0.4,"count":5},{"edge":-0.375,"count":6},{"edge":-0.35,"count":6},{"edge":-0.325,"count":5},{"edge":-0.3,"count":14},{"edge":-0.275,"count":18},{"edge":-0.25,"count":16},{"edge":-0.225,"count":16},{"edge":-0.2,"count":18},{"edge":-0.175,"count":22},{"edge":-0.15,"count":26},{"edge":-0.125,"count":27},{"edge":-0.1,"count":32},{"edge":-0.075,"count":34},{"edge":-0.05,"count":36},{"edge":-0.025,"count":39},
{"edge":0,"count":39},{"edge":0.025,"count":36},{"edge":0.05,"count":34},{"edge":0.075,"count":32},{"edge":0.1,"count":27},{"edge":0.125,"count":26},{"edge":0.15,"count":22},{"edge":0.175,"count":18},{"edge":0.2,"count":16},{"edge":0.225,"count":16},{"edge":0.25,"count":18},{"edge":0.275,"count":14},{"edge":0.3,"count":5},{"edge":0.325,"count":6},{"edge":0.35,"count":6},{"edge":0.375,"count":5},{"edge":0.4,"count":5},{"edge":0.425,"count":4},{"edge":0.45,"count":2},{"edge":0.475,"count":2},{"edge":0.5,"count":2}
],
"colmerge": [
{"left":0,"right":1,"h":120,"hl":0,"hr":0},{"left":3,"right":4,"h":118,"hl":0,"hr":0},{"left":2,"right":3.5,"h":180,"hl":0,"hr":118},{"left":0.5,"right":2.75,"h":200,"hl":120,"hr":180},{"left":6,"right":7,"h":87,"hl":0,"hr":0},{"left":5,"right":6.5,"h":105,"hl":0,"hr":87},{"left":8,"right":9,"h":73,"hl":0,"hr":0},{"left":10,"right":11,"h":122,"hl":0,"hr":0},{"left":8.5,"right":10.5,"h":164,"hl":73,"hr":122},{"left":5.75,"right":9.5,"h":208,"hl":105,"hr":164},{"left":1.625,"right":7.625,"h":312,"hl":200,"hr":208},
{"left":13,"right":14,"h":120,"hl":0,"hr":0},{"left":18,"right":19,"h":83,"hl":0,"hr":0},{"left":17,"right":18.5,"h":110,"hl":0,"hr":83},{"left":16,"right":17.75,"h":117,"hl":0,"hr":110},{"left":15,"right":16.875,"h":128,"hl":0,"hr":117},{"left":13.5,"right":15.9375,"h":160,"hl":120,"hr":128},{"left":12,"right":14.71875,"h":232,"hl":0,"hr":160},
{"left":20,"right":21,"h":168,"hl":0,"hr":0},{"left":24,"right":25,"h":90,"hl":0,"hr":0},{"left":23,"right":24.5,"h":137,"hl":0,"hr":90},{"left":22,"right":23.75,"h":175,"hl":0,"hr":137},{"left":20.5,"right":22.875,"h":213,"hl":168,"hr":175},
{"left":26,"right":27,"h":117,"hl":0,"hr":0},{"left":28,"right":29,"h":80,"hl":0,"hr":0},{"left":30,"right":31,"h":98,"hl":0,"hr":0},{"left":28.5,"right":30.5,"h":149,"hl":80,"hr":98},{"left":32,"right":33,"h":70,"hl":0,"hr":0},{"left":35,"right":36,"h":73,"hl":0,"hr":0},{"left":34,"right":35.5,"h":90,"hl":0,"hr":73},{"left":32.5,"right":34.75,"h":169,"hl":70,"hr":90},{"left":29.5,"right":33.625,"h":212,"hl":149,"hr":169},{"left":26.5,"right":31.5625,"h":232,"hl":117,"hr":212},
{"left":21.6875,"right":29.03125,"h":282,"hl":213,"hr":232},{"left":13.359375,"right":25.359375,"h":322,"hl":232,"hr":282},{"left":4.625,"right":19.359375,"h":470,"hl":312,"hr":322}
],
"rowmerge": [
{"top":0,"bottom":1,"h":360,"ht":0,"hb":0},{"top":2,"bottom":3,"h":337,"ht":0,"hb":0},{"top":4,"bottom":5,"h":370,"ht":0,"hb":0},{"top":2.5,"bottom":4.5,"h":403,"ht":337,"hb":370},{"top":6,"bottom":7,"h":283,"ht":0,"hb":0},{"top":6.5,"bottom":8,"h":315,"ht":283,"hb":0},{"top":3.5,"bottom":7.25,"h":505,"ht":403,"hb":315},{"top":0.5,"bottom":5.375,"h":520,"ht":360,"hb":505},
{"top":10,"bottom":11,"h":283,"ht":0,"hb":0},{"top":9,"bottom":10.5,"h":315,"ht":0,"hb":283},{"top":12,"bottom":13,"h":370,"ht":0,"hb":0},{"top":14,"bottom":15,"h":337,"ht":0,"hb":0},{"top":12.5,"bottom":14.5,"h":403,"ht":370,"hb":337},{"top":9.75,"bottom":13.5,"h":505,"ht":315,"hb":403},{"top":16,"bottom":17,"h":360,"ht":0,"hb":0},{"top":11.625,"bottom":16.5,"h":520,"ht":505,"hb":360},
{"top":2.9375,"bottom":14.0625,"h":880,"ht":520,"hb":520}
]
},
"vconcat": [
{
"hconcat": [
{
"width": 197, "height": 134,
"view": {"stroke": "black", "strokeWidth": 2},
"layer": [
{
"data": {"name": "keybins"},
"mark": {"type": "rect"},
"encoding": {
"x": {"field": "lo", "type": "quantitative", "title": "Value",
  "scale": {"domain": [-0.5, 0.5], "nice": false, "zero": false},
  "axis": {"values": [-0.4, -0.2, 0, 0.2, 0.4], "labelExpr": "datum.value == -0.4 ? '-0.4' : datum.value == 0 ? '0' : datum.value == 0.2 ? '0.2' : ''", "domain": false, "tickSize": 10, "tickWidth": 2, "offset": 2, "labelFontSize": 19, "labelFontWeight": "bold", "labelPadding": 16, "labelFlush": false, "titleFontSize": 18, "titleFontWeight": "bold", "titlePadding": 5}},
"x2": {"field": "hi"},
"y": {"datum": 0, "type": "quantitative", "title": "Count",
  "scale": {"domain": [0, 41.2], "nice": false, "zero": true},
  "axis": {"values": [0, 10, 20, 30, 40], "labelExpr": "datum.value == 10 || datum.value == 30 ? '' : datum.label", "domain": false, "tickSize": 12, "tickWidth": 2, "labelAngle": -90, "labelAlign": "center", "labelBaseline": "bottom", "labelPadding": 14, "labelFontSize": 16, "titleFontSize": 18, "titleFontWeight": "bold", "titlePadding": 8}},
"y2": {"datum": 41.2},
"color": {"field": "mid", "type": "quantitative", "legend": null,
  "scale": {"type": "linear", "domain": [-0.5, -0.25, 0, 0.25, 0.5], "range": ["#000080", "#ADD8E6", "#FFD700", "#FF0000", "#8B0000"], "interpolate": "rgb"}}
}
},
{
"data": {"name": "hist"},
"mark": {"type": "line", "interpolate": "step-after", "color": "#00FFFF", "strokeWidth": 2},
"encoding": {
"x": {"field": "edge", "type": "quantitative", "title": "Value"},
"y": {"field": "count", "type": "quantitative", "title": "Count"}
}
}
]
},
{
"width": 888, "height": 248,
"title": {"text": "Pearson's cor", "fontSize": 39.5, "fontWeight": "bold", "anchor": "middle", "baseline": "alphabetic", "offset": -74, "dx": 5, "color": "black"},
"data": {"name": "colmerge"},
"layer": [
{"mark": {"type": "rule", "strokeWidth": 3, "color": "black", "strokeCap": "square"},
 "encoding": {
  "x": {"field": "left", "type": "quantitative", "scale": {"domain": [-0.5, 36.5], "nice": false, "zero": false}, "axis": null},
  "y": {"field": "hl", "type": "quantitative", "scale": {"domain": [0, 742.4], "nice": false}, "axis": null},
  "y2": {"field": "h"}}},
{"mark": {"type": "rule", "strokeWidth": 3, "color": "black", "strokeCap": "square"},
 "encoding": {
  "x": {"field": "right", "type": "quantitative", "axis": null},
  "y": {"field": "hr", "type": "quantitative", "axis": null},
  "y2": {"field": "h"}}},
{"mark": {"type": "rule", "strokeWidth": 3, "color": "black", "strokeCap": "square"},
 "encoding": {
  "x": {"field": "left", "type": "quantitative", "axis": null},
  "x2": {"field": "right"},
  "y": {"field": "h", "type": "quantitative", "axis": null}}}
]
}
],
"spacing": 16
},
{
"hconcat": [
{
"width": 210, "height": 481,
"data": {"name": "rowmerge"},
"layer": [
{"mark": {"type": "rule", "strokeWidth": 3, "color": "black", "strokeCap": "square"},
 "encoding": {
  "y": {"field": "top", "type": "quantitative", "scale": {"domain": [-0.5, 17.5], "nice": false, "zero": false, "reverse": true}, "axis": null},
  "x": {"field": "ht", "type": "quantitative", "scale": {"domain": [0, 630.7], "nice": false, "reverse": true}, "axis": null},
  "x2": {"field": "h"}}},
{"mark": {"type": "rule", "strokeWidth": 3, "color": "black", "strokeCap": "square"},
 "encoding": {
  "y": {"field": "bottom", "type": "quantitative", "axis": null},
  "x": {"field": "hb", "type": "quantitative", "axis": null},
  "x2": {"field": "h"}}},
{"mark": {"type": "rule", "strokeWidth": 3, "color": "black", "strokeCap": "square"},
 "encoding": {
  "x": {"field": "h", "type": "quantitative", "axis": null},
  "y": {"field": "top", "type": "quantitative", "axis": null},
  "y2": {"field": "bottom"}}}
]
},
{
"width": 888, "height": 481,
"data": {"name": "cells"},
"transform": [
  {"lookup": "col", "from": {"data": {"name": "taxa"}, "key": "col", "fields": ["taxon"]}},
  {"lookup": "row", "from": {"data": {"name": "traits"}, "key": "row", "fields": ["trait"]}}
],
"mark": {"type": "rect"},
"encoding": {
  "x": {"field": "taxon", "type": "nominal", "sort": {"field": "col", "op": "min"}, "title": null,
    "axis": {"orient": "bottom", "labelAngle": -90, "labelAlign": "right", "labelBaseline": "middle", "labelFontSize": 17.4, "labelFontWeight": "bold", "labelPadding": 15, "ticks": false, "domain": false, "labelLimit": 500}},
  "y": {"field": "trait", "type": "nominal", "sort": {"field": "row", "op": "min"}, "title": null,
    "axis": {"orient": "right", "labelAlign": "left", "labelBaseline": "middle", "labelFontSize": 25, "labelFontWeight": "bold", "labelPadding": 13, "ticks": false, "domain": false, "labelLimit": 500}},
  "color": {"field": "cor", "type": "quantitative", "legend": null,
    "scale": {"type": "linear", "domain": [-0.5, -0.25, 0, 0.25, 0.5], "range": ["#000080", "#ADD8E6", "#FFD700", "#FF0000", "#8B0000"], "interpolate": "rgb"}}
}
}
],
"spacing": 6.5
}
],
"spacing": 4.5
}
